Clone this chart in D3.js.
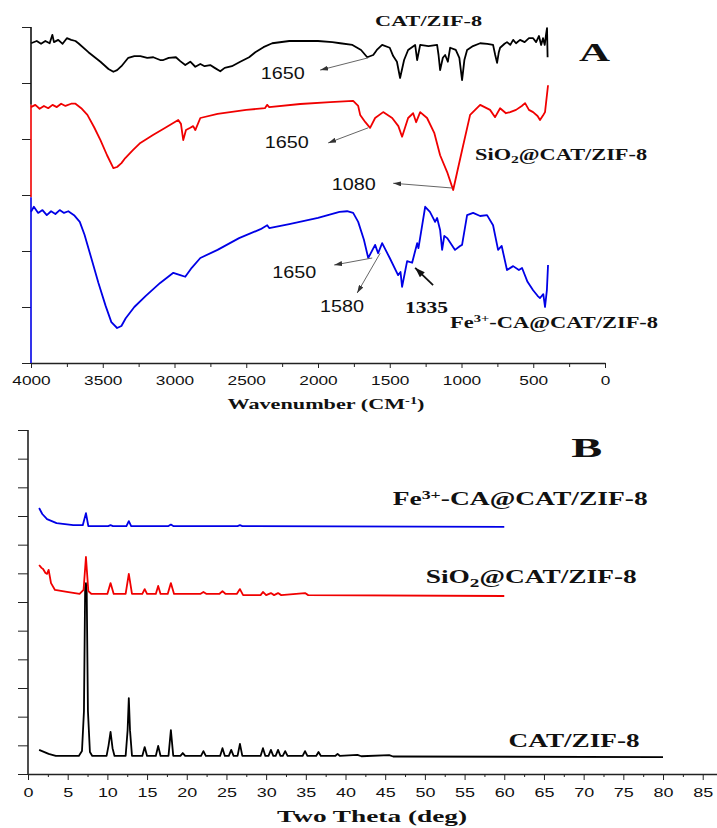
<!DOCTYPE html>
<html>
<head>
<meta charset="utf-8">
<script src="https://cdn.jsdelivr.net/npm/d3@7"></script>
<style>
  body { margin: 0; background: #fff; }
  svg { display: block; }
</style>
</head>
<body>
<script>

// ---- FTIR spectra (panel A): [wavenumber, transmittance a.u., stacked]
let ftirCat = [[4000,57.1],[3960,57.5],[3930,57.0],[3900,57.5],[3870,57.1],[3851,58.6],[3840,57.3],[3810,57.7],[3780,57.0],[3750,58.0],[3720,57.7],[3690,57.5],[3670,57.1],[3600,55.5],[3516,53.8],[3460,52.5],[3426,52.0],[3400,52.3],[3370,53.0],[3322,54.5],[3280,54.8],[3238,54.8],[3190,54.5],[3148,54.6],[3100,54.1],[3078,54.1],[3040,54.5],[2990,54.6],[2960,53.9],[2925,53.2],[2890,53.8],[2855,52.9],[2820,53.4],[2790,53.0],[2751,53.2],[2720,52.7],[2681,52.1],[2650,52.7],[2600,53.0],[2542,53.8],[2480,54.6],[2437,55.5],[2380,56.4],[2319,57.1],[2200,57.5],[2124,57.5],[2000,57.5],[1900,57.3],[1845,57.1],[1760,56.8],[1700,55.9],[1657,54.6],[1615,55.0],[1590,55.9],[1553,56.8],[1500,56.3],[1476,54.8],[1450,53.8],[1428,50.9],[1400,54.1],[1372,55.9],[1323,56.8],[1309,54.1],[1288,56.8],[1230,56.6],[1170,56.8],[1160,55.0],[1149,52.3],[1130,54.5],[1114,55.0],[1095,53.8],[1079,56.3],[1040,55.9],[1015,54.5],[996,50.5],[980,54.1],[961,55.9],[920,56.6],[870,57.1],[820,57.0],[780,56.8],[765,55.0],[752,53.6],[740,55.5],[731,56.3],[700,57.0],[683,57.3],[660,56.8],[640,57.7],[620,57.1],[592,57.7],[560,57.3],[530,58.0],[501,58.0],[480,57.3],[460,58.4],[445,56.8],[432,58.0],[420,56.8],[410,58.8],[404,59.8],[400,54.6]];

let ftirSio2 = [[4000,45.7],[3970,46.1],[3940,45.4],[3910,45.9],[3880,45.5],[3850,46.1],[3820,45.7],[3790,46.3],[3760,45.9],[3720,46.3],[3690,46.3],[3650,45.5],[3607,44.3],[3560,42.1],[3516,39.8],[3470,37.1],[3426,34.8],[3400,35.0],[3370,35.7],[3343,36.6],[3290,38.0],[3238,39.3],[3150,40.7],[3064,42.0],[2974,43.4],[2955,42.7],[2939,39.8],[2920,41.6],[2890,42.0],[2870,42.3],[2855,41.6],[2820,43.75],[2700,44.5],[2500,45.2],[2370,45.5],[2354,46.1],[2340,45.7],[2124,46.25],[1915,46.6],[1755,46.8],[1720,45.9],[1706,44.3],[1670,43.0],[1637,42.0],[1602,43.75],[1546,44.8],[1483,43.75],[1440,42.3],[1414,40.4],[1372,43.75],[1337,44.6],[1316,43.0],[1288,44.8],[1240,43.75],[1190,41.1],[1149,37.1],[1100,34.1],[1058,30.9],[1030,34.1],[996,38.0],[940,44.3],[870,46.1],[801,45.2],[766,43.9],[731,45.5],[690,44.6],[661,44.8],[620,45.2],[580,45.9],[557,46.4],[530,45.2],[501,44.8],[470,44.1],[453,43.4],[430,44.3],[418,44.8],[397,49.6]];

let ftirFe = [[4000,27.0],[3980,27.9],[3950,26.8],[3920,27.3],[3890,26.4],[3860,27.1],[3830,26.6],[3800,27.3],[3770,26.8],[3740,27.1],[3700,26.4],[3660,25.2],[3627,22.9],[3580,18.75],[3530,14.3],[3480,10.2],[3440,7.3],[3400,6.25],[3370,6.6],[3340,8.0],[3280,10.0],[3200,12.0],[3100,14.3],[3008,16.1],[2960,15.7],[2925,15.4],[2880,17.0],[2820,18.75],[2700,20.2],[2550,22.3],[2400,23.9],[2354,24.6],[2340,24.1],[2200,24.8],[2000,25.9],[1850,27.0],[1797,27.1],[1755,26.8],[1720,25.2],[1680,22.0],[1650,18.75],[1602,21.1],[1581,19.6],[1553,21.4],[1500,18.75],[1442,15.7],[1425,16.25],[1414,13.6],[1379,18.2],[1344,17.9],[1309,21.4],[1300,20.5],[1253,27.9],[1220,27.0],[1184,25.2],[1170,25.9],[1149,23.75],[1135,20.2],[1120,22.7],[1100,22.3],[1045,20.2],[1010,20.9],[996,21.1],[961,26.4],[919,26.8],[870,26.25],[822,26.4],[780,24.6],[745,20.2],[720,20.9],[683,16.6],[640,17.3],[600,16.6],[578,16.96],[540,14.5],[501,13.0],[470,12.0],[453,11.6],[430,12.3],[418,10.0],[405,13.0],[397,17.5]];

// ---- XRD patterns (panel B): [2theta, intensity a.u., stacked]
let xrdCat = [[1.4,0.84],[2.0,0.77],[2.6,0.70],[3.5,0.63],[6.4,0.63],[6.8,0.8],[7.05,2.2],[7.2,6.5],[7.3,6.66],[7.4,6.3],[7.55,2.2],[7.8,0.77],[8.1,0.63],[9.9,0.63],[10.15,1.0],[10.4,1.47],[10.65,0.9],[10.9,0.63],[12.3,0.63],[12.55,1.53],[12.7,2.65],[12.85,1.53],[13.1,0.63],[14.4,0.63],[14.7,0.94],[15.0,0.63],[16.1,0.63],[16.4,0.98],[16.7,0.63],[17.7,0.63],[18.0,1.53],[18.3,0.63],[19.2,0.63],[19.5,0.73],[19.8,0.63],[21.8,0.63],[22.1,0.8],[22.4,0.63],[24.2,0.63],[24.5,0.9],[24.8,0.63],[25.3,0.63],[25.6,0.84],[25.9,0.63],[26.4,0.63],[26.7,1.05],[27.0,0.63],[29.3,0.63],[29.6,0.9],[29.9,0.63],[30.3,0.63],[30.6,0.84],[30.9,0.63],[31.2,0.63],[31.5,0.84],[31.8,0.63],[32.1,0.63],[32.4,0.8],[32.7,0.63],[34.6,0.63],[34.9,0.8],[35.2,0.63],[36.3,0.63],[36.6,0.77],[36.9,0.63],[38.7,0.63],[39.0,0.7],[39.3,0.63],[41.5,0.67],[42.0,0.62],[45.5,0.66],[46.0,0.61],[80,0.59]];

let xrdSio2 = [[1.4,7.29],[1.7,7.19],[1.9,7.15],[2.2,7.01],[2.4,6.98],[2.6,7.12],[2.9,6.66],[3.4,6.42],[4.9,6.35],[6.5,6.28],[7.0,6.42],[7.3,7.57],[7.6,6.38],[8.0,6.28],[10.0,6.28],[10.4,6.66],[10.8,6.28],[12.3,6.28],[12.7,6.98],[13.1,6.28],[14.4,6.28],[14.7,6.45],[15.0,6.28],[16.1,6.28],[16.4,6.56],[16.7,6.28],[17.6,6.28],[18.0,6.66],[18.4,6.28],[21.7,6.28],[22.1,6.35],[22.5,6.28],[24.1,6.28],[24.5,6.38],[24.9,6.28],[26.3,6.28],[26.7,6.45],[27.1,6.24],[29.3,6.24],[29.6,6.35],[30.0,6.24],[30.6,6.31],[31.0,6.24],[31.5,6.31],[31.9,6.24],[34.9,6.31],[35.3,6.24],[60,6.21]];

let xrdFe = [[1.4,9.28],[1.8,9.07],[2.4,8.89],[3.6,8.75],[5.7,8.68],[6.9,8.68],[7.3,9.10],[7.6,8.65],[10.1,8.65],[10.4,8.68],[10.7,8.65],[12.4,8.65],[12.7,8.82],[13.0,8.65],[17.7,8.65],[18.0,8.70],[18.3,8.65],[26.4,8.65],[26.7,8.68],[27.0,8.65],[60,8.62]];

let ftirTicks = d3.range(4000, -1, -500);
let xrdTicks = d3.range(0, 86, 5);

let width = 717;
let height = 828;
let serif = "'Liberation Serif', 'Times New Roman', serif";
let sans = "'Liberation Sans', Arial, sans-serif";

let svg = d3.select("body").append("svg")
    .attr("width", width)
    .attr("height", height);

let defs = svg.append("defs");
function marker(id, color, w, h) {
    defs.append("marker")
        .attr("id", id)
        .attr("markerUnits", "userSpaceOnUse")
        .attr("markerWidth", w).attr("markerHeight", h)
        .attr("refX", w).attr("refY", h / 2)
        .attr("orient", "auto")
        .append("path")
        .attr("d", `M0,0L${w},${h / 2}L0,${h}Z`)
        .attr("fill", color);
}
marker("headGray", "#333", 8, 5);
marker("headBlack", "#111", 10, 7);

// label with optional sub/superscript parts: [text, "sub"|"sup"|"back", dy]
function richText(g, x, y, parts, size, len, font, weight) {
    let t = g.append("text")
        .attr("x", x).attr("y", y)
        .attr("text-anchor", "middle")
        .attr("font-family", font)
        .attr("font-weight", weight)
        .attr("font-size", size)
        .attr("fill", "#111");
    parts.forEach(p => {
        let s = t.append("tspan").text(p[0]);
        if (p[1] == "sub") s.attr("font-size", size * 0.7).attr("dy", size * 0.2);
        if (p[1] == "sup") s.attr("font-size", size * 0.65).attr("dy", -size * 0.35);
        if (p[1] == "back") s.attr("dy", p[2] * size);
    });
    if (len) t.attr("textLength", len).attr("lengthAdjust", "spacingAndGlyphs");
    return t;
}

// ================= Panel A : FTIR =================
let xA = d3.scaleLinear().domain([4000, 0]).range([31, 605]);
let yA = d3.scaleLinear().domain([0, 60]).range([363, 27]);
let gA = svg.append("g");

let lineA = d3.line().x(d => xA(d[0])).y(d => yA(d[1]));
[[ftirCat, "#000"], [ftirSio2, "#f00000"], [ftirFe, "#0000e6"]].forEach(s => {
    gA.append("path")
        .attr("d", lineA(s[0]))
        .attr("fill", "none")
        .attr("stroke", s[1])
        .attr("stroke-width", 1.8)
        .attr("stroke-linejoin", "round");
});

// x axis
let axA = gA.append("g")
    .attr("transform", `translate(0,${yA(0)})`)
    .attr("color", "#222")
    .call(d3.axisBottom(xA).tickValues(ftirTicks).tickSize(5).tickPadding(8)
        .tickSizeOuter(0).tickFormat(d3.format("d")));
axA.select(".domain").attr("stroke-width", 1.6);
axA.selectAll("text")
    .attr("font-family", sans).attr("font-size", 13).attr("fill", "#111")
    .attr("textLength", function () { return this.textContent.length * 9.6; })
    .attr("lengthAdjust", "spacingAndGlyphs");
gA.append("g")
    .attr("transform", `translate(0,${yA(0)})`)
    .attr("color", "#222")
    .call(d3.axisBottom(xA).tickValues(d3.range(3750, 0, -500)).tickSize(4).tickFormat(""))
    .select(".domain").remove();

// y axis (ticks only), spine colored per trace
let ayA = gA.append("g")
    .attr("transform", `translate(${xA(4000)},0)`)
    .attr("color", "#222")
    .call(d3.axisLeft(yA).ticks(6).tickSize(9).tickSizeOuter(0).tickFormat(""));
ayA.select(".domain").remove();
let spineBreaks = [60, 46.1, 29.6, 0];
let spineColors = ["#111", "#f00000", "#0000e6"];
spineColors.forEach((c, i) => {
    gA.append("line")
        .attr("x1", xA(4000)).attr("x2", xA(4000))
        .attr("y1", yA(spineBreaks[i])).attr("y2", yA(spineBreaks[i + 1]))
        .attr("stroke", c).attr("stroke-width", 1.6);
});

// peak annotations
let annots = [
    { text: "1650", from: [1650, 54.5], to: [1985, 52.3], at: [2246, 50.7] },
    { text: "1650", from: [1650, 42.0], to: [1929, 39.3], at: [2218, 38.4] },
    { text: "1080", from: [1065, 31.25], to: [1476, 32.1], at: [1751, 30.9] },
    { text: "1650", from: [1622, 18.75], to: [1887, 17.5], at: [2166, 15.2] },
    { text: "1580", from: [1567, 19.6], to: [1727, 12.5], at: [1832, 9.1] }
];
annots.forEach(a => {
    gA.append("line")
        .attr("x1", xA(a.from[0])).attr("y1", yA(a.from[1]))
        .attr("x2", xA(a.to[0])).attr("y2", yA(a.to[1]))
        .attr("stroke", "#666").attr("stroke-width", 1)
        .attr("marker-end", "url(#headGray)");
    richText(gA, xA(a.at[0]), yA(a.at[1]), [[a.text]], 16, 44, sans, "normal");
});
gA.append("line")
    .attr("x1", xA(1198)).attr("y1", yA(13.9))
    .attr("x2", xA(1323)).attr("y2", yA(17.0))
    .attr("stroke", "#111").attr("stroke-width", 1.8)
    .attr("marker-end", "url(#headBlack)");
richText(gA, xA(1243), yA(8.9), [["1335"]], 16, 43, serif, "bold");

// series labels
richText(gA, xA(1229), yA(60.18), [["CAT/ZIF-8"]], 15, 107, serif, "bold");
richText(gA, xA(306), yA(36.25), [["SiO"], ["2", "sub"], ["@CAT/ZIF-8", "back", -0.2]], 16, 172, serif, "bold");
richText(gA, xA(355), yA(6.25), [["Fe"], ["3+", "sup"], ["-CA@CAT/ZIF-8", "back", 0.35]], 16, 208, serif, "bold");
richText(gA, xA(73), yA(53.9), [["A"]], 26, 31, serif, "bold");
richText(gA, 326, 409, [["Wavenumber (CM"], ["-1", "sup"], [")", "back", 0.35]], 15, 197, serif, "bold");

// ================= Panel B : XRD =================
let xB = d3.scaleLinear().domain([0, 86.8]).range([28, 717]);
let yB = d3.scaleLinear().domain([0, 12]).range([774, 430]);
let gB = svg.append("g");

let lineB = d3.line().x(d => xB(d[0])).y(d => yB(d[1]));
[[xrdCat, "#000"], [xrdSio2, "#f00000"], [xrdFe, "#0000e6"]].forEach(s => {
    gB.append("path")
        .attr("d", lineB(s[0]))
        .attr("fill", "none")
        .attr("stroke", s[1])
        .attr("stroke-width", 1.8)
        .attr("stroke-linejoin", "round");
});

let axB = gB.append("g")
    .attr("transform", `translate(0,${yB(0)})`)
    .attr("color", "#222")
    .call(d3.axisBottom(xB).tickValues(xrdTicks).tickSize(6).tickPadding(8)
        .tickSizeOuter(0).tickFormat(d3.format("d")));
axB.select(".domain").attr("stroke-width", 1.6);
axB.selectAll("text")
    .attr("font-family", sans).attr("font-size", 13).attr("fill", "#111")
    .attr("textLength", function () { return this.textContent.length * 10; })
    .attr("lengthAdjust", "spacingAndGlyphs");
gB.append("g")
    .attr("transform", `translate(0,${yB(0)})`)
    .attr("color", "#222")
    .call(d3.axisBottom(xB).tickValues(d3.range(2.5, 86, 5)).tickSize(3).tickFormat(""))
    .select(".domain").remove();

let ayB = gB.append("g")
    .attr("transform", `translate(${xB(0)},0)`)
    .attr("color", "#222")
    .call(d3.axisLeft(yB).ticks(12).tickSize(10).tickSizeOuter(0).tickFormat(""));
ayB.select(".domain").remove();
gB.append("line")
    .attr("x1", xB(0)).attr("x2", xB(0))
    .attr("y1", yB(12)).attr("y2", yB(0))
    .attr("stroke", "#222").attr("stroke-width", 1.6);

richText(gB, xB(62.0), yB(9.38), [["Fe"], ["3+", "sup"], ["-CA@CAT/ZIF-8", "back", 0.35]], 18, 255, serif, "bold");
richText(gB, xB(63.4), yB(6.66), [["SiO"], ["2", "sub"], ["@CAT/ZIF-8", "back", -0.2]], 18, 211, serif, "bold");
richText(gB, xB(68.8), yB(0.94), [["CAT/ZIF-8"]], 18, 131, serif, "bold");
richText(gB, xB(70.4), yB(11.06), [["B"]], 27, 31, serif, "bold");
richText(gB, 372, 822, [["Two Theta (deg)"]], 17, 190, serif, "bold");

</script>
</body>
</html>
